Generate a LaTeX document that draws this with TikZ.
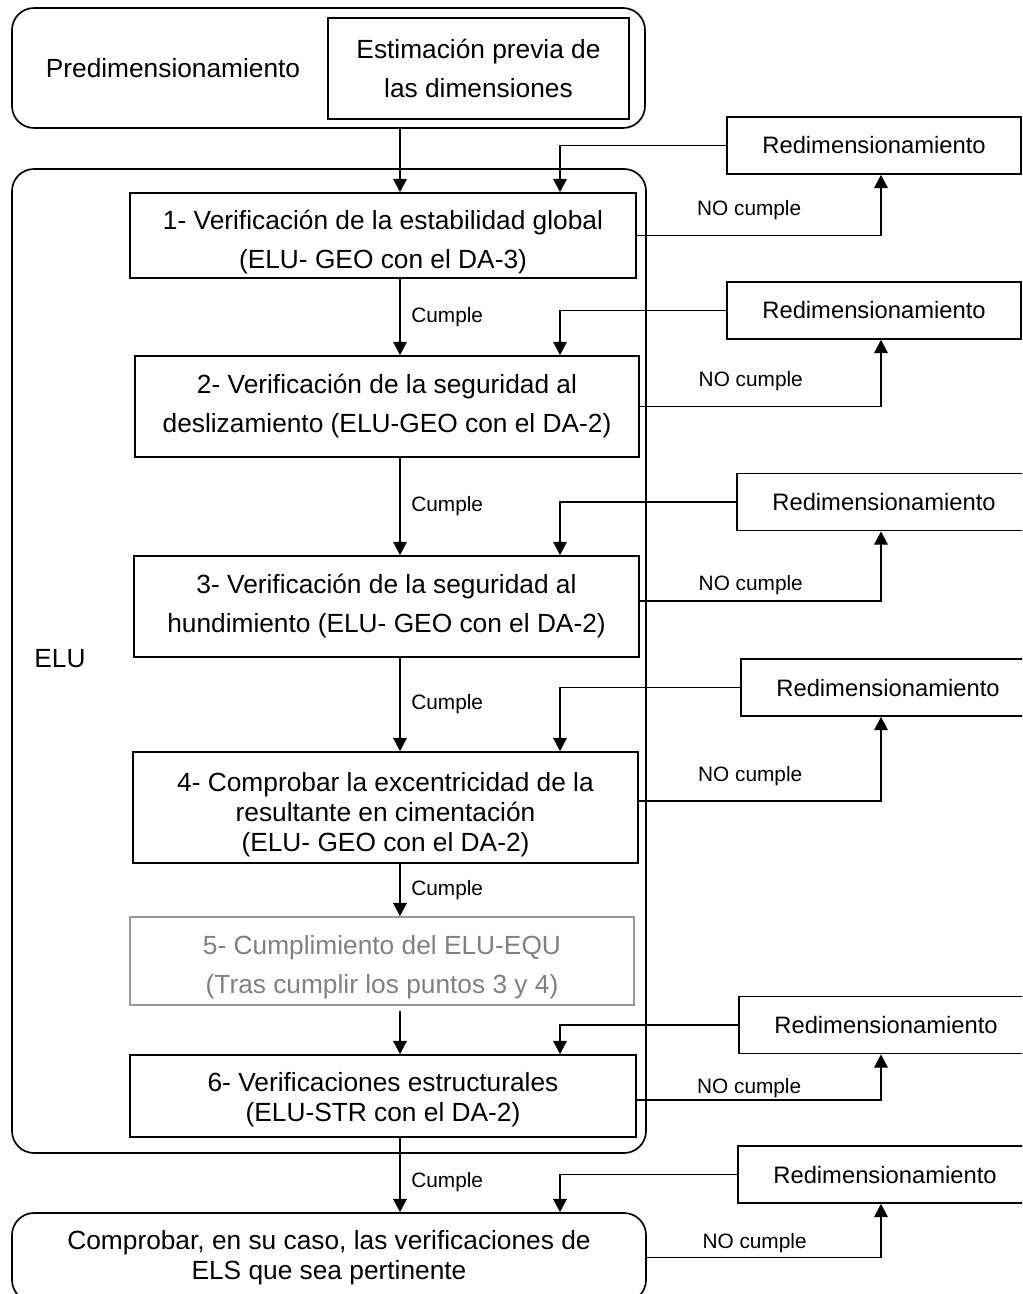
\documentclass[tikz,border=0pt]{standalone}
\usepackage{fontspec}
\setmainfont{Liberation Sans}
\usetikzlibrary{arrows.meta,positioning}
\tikzset{
  boxsize/.style 2 args={minimum width=#1*0.025cm,minimum height=#2*0.025cm},
  groupbox/.style={rectangle,draw,rounded corners=0.55cm,line width=1.2pt,inner sep=0pt,align=center},
  stepbox/.style={rectangle,draw,line width=1.2pt,align=center,font=\fontsize{18.7}{27.7}\selectfont},
  tightbox/.style={stepbox,font=\fontsize{18.7}{21.3}\selectfont},
  redimbox/.style={rectangle,draw,line width=1.2pt,boxsize={294}{57},font=\fontsize{16.9}{20}\selectfont},
  lbl/.style={font=\fontsize{14.8}{17}\selectfont},
}
\begin{document}
\begin{tikzpicture}[x=0.025cm,y=-0.025cm,>={Triangle[length=0.33cm,width=0.34cm]},line width=0.9pt]
    \useasboundingbox (0,0) rectangle (1022,1294);
    \clip (0,0) rectangle (1022,1294);
    % groups
    \node[groupbox,boxsize={633}{120}] (pre) at (328.5,68) {};
    \node[groupbox,boxsize={634}{984}] (elu) at (329,661) {};
    \node[font=\fontsize{18.7}{22}\selectfont] (prelbl) at (173,68) {Predimensionamiento};
    \node[font=\fontsize{18.7}{22}\selectfont] (elulbl) at (60,659) {ELU};
    \node[stepbox,boxsize={301}{101}] (est) at (478.5,68.5) {Estimación previa de\\las dimensiones};
    % checks
    \node[stepbox,boxsize={506}{85},inner ysep=0pt,text height=1.8cm] (v1) at (383,235.5) {1- Verificación de la estabilidad global\\(ELU- GEO con el DA-3)};
    \node[stepbox,boxsize={504}{101}] (v2) at (387,406.5) {2- Verificación de la seguridad al\\deslizamiento (ELU-GEO con el DA-2)};
    \node[stepbox,boxsize={505}{101}] (v3) at (386.5,606.5) {3- Verificación de la seguridad al\\hundimiento (ELU- GEO con el DA-2)};
    \node[tightbox,boxsize={505}{111},inner ysep=0pt,text height=2.35cm] (v4) at (385.5,807.5) {4- Comprobar la excentricidad de la\\resultante en cimentación\\(ELU- GEO con el DA-2)};
    \node[stepbox,boxsize={504}{88},inner ysep=0pt,text height=1.75cm,draw=black!40,text=black!50] (v5) at (382,961) {5- Cumplimiento del ELU-EQU\\(Tras cumplir los puntos 3 y 4)};
    \node[tightbox,boxsize={506}{82},inner ysep=0pt,text height=1.4cm] (v6) at (383,1096) {6- Verificaciones estructurales\\(ELU-STR con el DA-2)};
    \node[groupbox,boxsize={634}{89},font=\fontsize{18.7}{21.3}\selectfont] (els) at (329,1257.5) {Comprobar, en su caso, las verificaciones de\\ELS que sea pertinente};
    % resizing
    \node[redimbox] (r1) at (874,145.5) {Redimensionamiento};
    \node[redimbox] (r2) at (874,310.5) {Redimensionamiento};
    \node[redimbox] (r3) at (884,502) {Redimensionamiento};
    \node[redimbox] (r4) at (888,687.5) {Redimensionamiento};
    \node[redimbox] (r5) at (886,1025) {Redimensionamiento};
    \node[redimbox] (r6) at (885,1174.5) {Redimensionamiento};
    \coordinate (mainx) at (400,0);
    \coordinate (backx) at (560,0);
    \coordinate (upx) at (881,0);
    % arrows down
    \draw[->] (pre.south -| mainx) -- (v1.north -| mainx);
    \draw[->] (v1.south -| mainx) -- node[lbl,right,xshift=0.15cm]{Cumple} (v2.north -| mainx);
    \draw[->] (v2.south -| mainx) -- node[lbl,right,xshift=0.15cm]{Cumple} (v3.north -| mainx);
    \draw[->] (v3.south -| mainx) -- node[lbl,right,xshift=0.15cm]{Cumple} (v4.north -| mainx);
    \draw[->] (v4.south -| mainx) -- node[lbl,right,xshift=0.15cm]{Cumple} (v5.north -| mainx);
    \draw[->] (v5.south -| mainx) ++(0,5) -- (v6.north -| mainx);
    \draw[->] (v6.south -| mainx) -- node[lbl,right,xshift=0.15cm,pos=0.6]{Cumple} (els.north -| mainx);
    % arrows out
    \draw[->] (v1.east) -| node[lbl,pos=0.23,above=0.25cm]{NO cumple} (r1.south -| upx);
    \draw[->] (v2.east) -| node[lbl,pos=0.23,above=0.25cm]{NO cumple} (r2.south -| upx);
    \draw[->] ([yshift=0.14cm]v3.east) -| node[lbl,pos=0.23,above=0.02cm]{NO cumple} (r3.south -| upx);
    \draw[->] ([yshift=0.16cm]v4.east) -| node[lbl,pos=0.23,above=0.25cm]{NO cumple} (r4.south -| upx);
    \draw[->] ([yshift=-0.1cm]v6.east) -| node[lbl,pos=0.23,above=-0.07cm]{NO cumple} (r5.south -| upx);
    \draw[->] (els.east) -| node[lbl,pos=0.23,above=-0.02cm]{NO cumple} (r6.south -| upx);
    % arrows back
    \draw[->] (r1.west) -| (v1.north -| backx);
    \draw[->] (r2.west) -| (v2.north -| backx);
    \draw[->] (r3.west) -| (v3.north -| backx);
    \draw[->] (r4.west) -| (v4.north -| backx);
    \draw[->] (r5.west) -| (v6.north -| backx);
    \draw[->] (r6.west) -| (els.north -| backx);
  \end{tikzpicture}
\end{document}
